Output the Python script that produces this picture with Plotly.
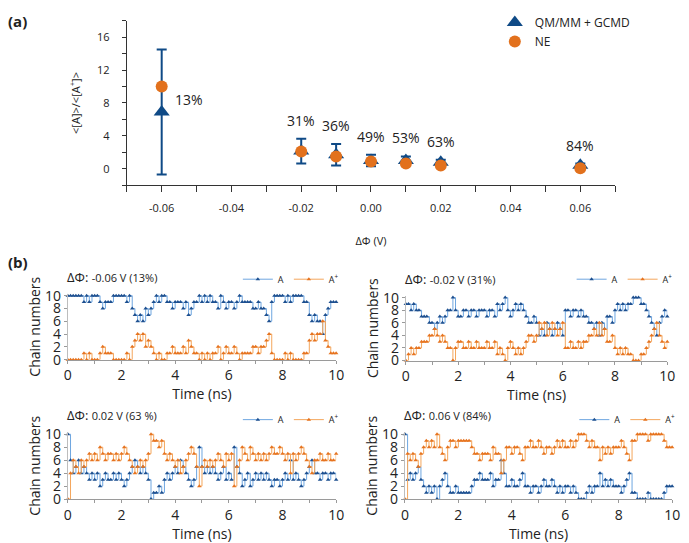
import plotly.graph_objects as go

# ---------------- Panel (a) data ----------------
PHI = [-0.06, -0.02, -0.01, 0.00, 0.01, 0.02, 0.06]
QMMM_RATIO = [6.9, 2.15, 1.7, 1.0, 1.0, 0.8, 0.43]
QMMM_ERR = [7.6, 1.5, 1.3, 0.7, 0.5, 0.3, 0.2]
NE_RATIO = [10.0, 2.1, 1.5, 0.9, 0.63, 0.4, 0.07]
PCT_LABELS = ["13%", "31%", "36%", "49%", "53%", "63%", "84%"]
XTICK_A_VALS = [-0.06, -0.04, -0.02, 0.00, 0.02, 0.04, 0.06]
XTICK_A_TEXT = ["-0.06", "-0.04", "-0.02", "0.00", "0.02", "0.04", "0.06"]
YTICK_A_VALS = [0, 4, 8, 12, 16]

# ---------------- Panel (b) data ----------------
TIME_NS = [round(i * 0.1, 1) for i in range(101)]
PANEL_PHI = ["-0.06", "-0.02", "0.02", "0.06"]
PANEL_PCT = ["13%", "31%", "63 %", "84%"]

A_m006 = [10, 10, 10, 10, 10, 10, 9, 10, 9, 10, 10, 10, 9, 8, 9, 9, 9, 10, 10, 10,
          10, 10, 9, 10, 8, 7, 6, 7, 6, 8, 7, 8, 9, 10, 9, 10, 10, 9, 9, 8,
          9, 9, 9, 8, 9, 7, 8, 9, 9, 10, 9, 10, 9, 10, 9, 9, 8, 10, 9, 8,
          9, 9, 8, 9, 10, 9, 9, 9, 9, 8, 8, 9, 8, 8, 7, 6, 9, 10, 10, 10,
          10, 9, 10, 9, 10, 10, 10, 10, 9, 9, 7, 6, 7, 6, 6, 4, 7, 8, 9, 9, 9]
Ap_m006 = [0, 0, 0, 0, 0, 0, 1, 0, 1, 0, 0, 0, 1, 2, 1, 1, 1, 0, 0, 0,
           0, 0, 1, 0, 2, 3, 4, 3, 4, 2, 3, 2, 1, 0, 1, 0, 0, 1, 1, 2,
           1, 1, 1, 2, 1, 3, 2, 1, 1, 0, 1, 0, 1, 0, 1, 1, 2, 0, 1, 2,
           1, 1, 2, 1, 0, 1, 1, 1, 1, 2, 2, 1, 2, 2, 3, 4, 1, 0, 0, 0,
           0, 1, 0, 1, 0, 0, 0, 0, 1, 1, 3, 4, 3, 4, 4, 6, 3, 2, 1, 1, 1]

A_m002 = [9, 9, 8, 9, 8, 8, 7, 7, 7, 6, 6, 5, 6, 7, 6, 7, 8, 8, 10, 8,
          7, 7, 8, 8, 7, 8, 8, 7, 8, 8, 8, 7, 8, 8, 7, 9, 8, 9, 10, 8,
          7, 8, 9, 8, 9, 8, 7, 6, 6, 7, 6, 4, 5, 4, 6, 5, 4, 5, 6, 5,
          4, 8, 8, 7, 8, 8, 7, 8, 7, 7, 6, 6, 5, 6, 4, 6, 5, 7, 7, 6,
          8, 9, 8, 9, 8, 9, 9, 10, 10, 10, 9, 9, 8, 7, 6, 5, 4, 6, 7, 8, 7]
Ap_m002 = [0, 1, 2, 1, 2, 2, 3, 3, 3, 4, 4, 5, 4, 3, 4, 3, 2, 2, 0, 2,
           3, 3, 2, 2, 3, 2, 2, 3, 2, 2, 2, 3, 2, 2, 3, 1, 2, 1, 0, 2,
           3, 2, 1, 2, 1, 2, 3, 4, 4, 3, 4, 6, 5, 6, 4, 5, 6, 5, 4, 5,
           6, 2, 2, 3, 2, 2, 3, 2, 3, 3, 4, 4, 5, 4, 6, 4, 5, 3, 3, 4,
           2, 1, 2, 1, 2, 1, 1, 0, 0, 0, 1, 1, 2, 3, 4, 5, 6, 4, 3, 2, 3]

A_p002 = [10, 6, 4, 5, 6, 4, 5, 4, 3, 4, 3, 4, 2, 3, 4, 3, 3, 4, 3, 4,
          3, 2, 3, 4, 5, 6, 5, 4, 5, 4, 3, 0, 1, 1, 2, 1, 3, 4, 3, 4,
          5, 4, 6, 5, 4, 3, 2, 3, 5, 8, 5, 4, 5, 4, 5, 4, 3, 4, 5, 3,
          4, 3, 8, 5, 4, 2, 3, 4, 2, 3, 4, 3, 4, 3, 4, 3, 2, 3, 3, 2,
          3, 4, 3, 6, 3, 4, 3, 2, 3, 4, 5, 6, 4, 4, 3, 4, 4, 3, 4, 4, 3]
Ap_p002 = [0, 4, 6, 5, 4, 6, 5, 6, 7, 6, 7, 6, 8, 7, 6, 7, 7, 6, 7, 6,
           7, 8, 7, 6, 5, 4, 5, 6, 5, 6, 7, 10, 9, 9, 8, 9, 7, 6, 7, 6,
           5, 6, 4, 5, 6, 7, 8, 7, 5, 2, 5, 6, 5, 6, 5, 6, 7, 6, 5, 7,
           6, 7, 2, 5, 6, 8, 7, 6, 8, 7, 6, 7, 6, 7, 6, 7, 8, 7, 7, 8,
           7, 6, 7, 4, 7, 6, 7, 8, 7, 6, 5, 4, 6, 6, 7, 6, 6, 7, 6, 6, 7]

A_p006 = [10, 3, 4, 3, 4, 5, 3, 2, 1, 2, 1, 2, 0, 2, 3, 4, 2, 1, 1, 2,
          1, 1, 1, 1, 1, 2, 3, 3, 4, 3, 3, 3, 4, 2, 3, 3, 6, 4, 2, 2,
          3, 2, 2, 3, 4, 2, 2, 1, 2, 2, 1, 2, 3, 2, 2, 3, 2, 1, 2, 1,
          2, 2, 1, 2, 1, 0, 0, 0, 1, 2, 1, 2, 2, 4, 2, 3, 2, 3, 2, 2,
          2, 1, 2, 3, 4, 1, 1, 0, 0, 0, 0, 1, 0, 0, 0, 0, 0, 1, 2, 2, 2]
Ap_p006 = [0, 7, 6, 7, 6, 5, 7, 8, 9, 8, 9, 8, 10, 8, 7, 6, 8, 9, 9, 8,
           9, 9, 9, 9, 9, 8, 7, 7, 6, 7, 7, 7, 6, 8, 7, 7, 4, 6, 8, 8,
           7, 8, 8, 7, 6, 8, 8, 9, 8, 8, 9, 8, 7, 8, 8, 7, 8, 9, 8, 9,
           8, 8, 9, 8, 9, 10, 10, 10, 9, 8, 9, 8, 8, 6, 8, 7, 8, 7, 8, 8,
           8, 9, 8, 7, 6, 9, 9, 10, 10, 10, 10, 9, 10, 10, 10, 10, 10, 9, 8, 8, 8]

A_SERIES = [A_m006, A_m002, A_p002, A_p006]
AP_SERIES = [Ap_m006, Ap_m002, Ap_p002, Ap_p006]

# ---------------- Styles ----------------
DARK_BLUE = "#0f4a86"
ORANGE = "#e2711d"
LIGHT_BLUE = "#6ea6e0"
LIGHT_ORANGE = "#f4a65c"
MARK_BLUE = "#1d4f8f"
MARK_ORANGE = "#e6731f"
FONT = "Open Sans"
TXT = "#222222"

fig = go.Figure()

# Panel (a)
fig.add_trace(go.Scatter(
    x=PHI, y=QMMM_RATIO, mode="markers", name="QM/MM + GCMD",
    marker=dict(symbol="triangle-up", size=14, color=DARK_BLUE),
    error_y=dict(type="data", array=QMMM_ERR, color=DARK_BLUE, thickness=2, width=5),
    xaxis="x", yaxis="y", legend="legend", cliponaxis=False))
fig.add_trace(go.Scatter(
    x=PHI, y=NE_RATIO, mode="markers", name="NE",
    marker=dict(symbol="circle", size=12, color=ORANGE),
    xaxis="x", yaxis="y", legend="legend", cliponaxis=False))

annotations = []
for i, (px, lab) in enumerate(zip(PHI, PCT_LABELS)):
    if i == 0:
        annotations.append(dict(x=px, y=QMMM_RATIO[i], xref="x", yref="y", text=lab,
                                showarrow=False, xanchor="left", yanchor="middle",
                                xshift=11, yshift=12,
                                font=dict(family=FONT, size=14, color=TXT)))
    else:
        annotations.append(dict(x=px, y=QMMM_RATIO[i] + QMMM_ERR[i], xref="x", yref="y",
                                text=lab, showarrow=False, xanchor="center",
                                yanchor="bottom", yshift=7,
                                font=dict(family=FONT, size=14, color=TXT)))

# Panel (b)
b_domains = [
    ([0.0943, 0.4906], [0.3315, 0.4567]),
    ([0.5936, 0.9797], [0.3297, 0.4530]),
    ([0.0943, 0.4906], [0.0663, 0.1934]),
    ([0.5922, 0.9869], [0.0663, 0.1934]),
]
legend_pos = [(0.502, 0.512), (0.995, 0.512), (0.502, 0.245), (0.999, 0.245)]

layout_axes = {}
legends = {}
for k in range(4):
    n = k + 2
    xa, ya = f"x{n}", f"y{n}"
    lg = f"legend{n}"
    fig.add_trace(go.Scatter(
        x=TIME_NS, y=A_SERIES[k], mode="lines+markers", name="A",
        line=dict(color=LIGHT_BLUE, width=1, shape="hv"),
        marker=dict(symbol="triangle-up", size=4, color=MARK_BLUE),
        xaxis=xa, yaxis=ya, legend=lg, cliponaxis=False))
    fig.add_trace(go.Scatter(
        x=TIME_NS, y=AP_SERIES[k], mode="lines+markers", name="A<sup>+</sup>",
        line=dict(color=LIGHT_ORANGE, width=1, shape="hv"),
        marker=dict(symbol="triangle-up", size=4, color=MARK_ORANGE),
        xaxis=xa, yaxis=ya, legend=lg, cliponaxis=False))
    xd, yd = b_domains[k]
    layout_axes[f"xaxis{n}"] = dict(
        domain=xd, anchor=ya, range=[0, 10], dtick=2, tick0=0,
        showline=True, linecolor="#9a9a9a", linewidth=1, ticks="outside",
        ticklen=3, tickcolor="#9a9a9a", showgrid=False, zeroline=False,
        minor=dict(dtick=1, ticks="outside", ticklen=3, tickcolor="#9a9a9a"),
        tickfont=dict(family=FONT, size=14, color=TXT),
        title=dict(text="Time (ns)", font=dict(family=FONT, size=14, color=TXT), standoff=2))
    layout_axes[f"yaxis{n}"] = dict(
        domain=yd, anchor=xa, range=[0, 10.3], tickvals=[0, 2, 4, 6, 8, 10],
        showline=True, linecolor="#bdbdbd", linewidth=1, ticks="outside",
        ticklen=3, tickcolor="#9a9a9a", showgrid=False, zeroline=False,
        tickfont=dict(family=FONT, size=14, color=TXT),
        title=dict(text="Chain numbers", font=dict(family=FONT, size=14, color=TXT), standoff=1))
    lx, ly = legend_pos[k]
    legends[lg] = dict(x=lx, y=ly, xanchor="right", yanchor="top", orientation="h",
                       font=dict(family=FONT, size=9, color=TXT), bgcolor="rgba(0,0,0,0)",
                       itemwidth=30, tracegroupgap=0, itemclick=False)
    annotations.append(dict(
        x=xd[0], y=yd[1], xref="paper", yref="paper", xanchor="left", yanchor="bottom",
        xshift=-3, yshift=6, showarrow=False,
        text=f"ΔΦ: <span style='font-size:11px'>{PANEL_PHI[k]} V ({PANEL_PCT[k]})</span>",
        font=dict(family=FONT, size=13, color=TXT)))

annotations.append(dict(x=0.003, y=0.998, xref="paper", yref="paper", text="<b>(a)</b>",
                        showarrow=False, xanchor="left", yanchor="top",
                        font=dict(family=FONT, size=15, color=TXT)))
annotations.append(dict(x=0.003, y=0.517, xref="paper", yref="paper", text="<b>(b)</b>",
                        showarrow=False, xanchor="left", yanchor="middle",
                        font=dict(family=FONT, size=15, color=TXT)))

fig.update_layout(
    width=689, height=543, margin=dict(l=0, r=0, t=0, b=0),
    paper_bgcolor="white", plot_bgcolor="white",
    font=dict(family=FONT, color=TXT),
    xaxis=dict(domain=[0.1814, 0.9028], anchor="y", range=[-0.07, 0.07],
               tickvals=XTICK_A_VALS, ticktext=XTICK_A_TEXT,
               showline=True, linecolor="#333", linewidth=1, ticks="outside",
               ticklen=6, tickcolor="#333", showgrid=False, zeroline=False,
               minor=dict(dtick=0.01, ticks="outside", ticklen=6, tickcolor="#333"),
               ticklabelstandoff=7,
               tickfont=dict(family=FONT, size=11, color=TXT),
               title=dict(text="ΔΦ (V)", font=dict(family=FONT, size=11, color=TXT), standoff=22)),
    yaxis=dict(domain=[0.663, 0.976], anchor="x", range=[-2, 18],
               tickvals=YTICK_A_VALS, showline=True, linecolor="#333", linewidth=1,
               ticks="outside", ticklen=4, tickcolor="#333", showgrid=False, zeroline=False,
               minor=dict(dtick=2, ticks="outside", ticklen=4, tickcolor="#333"),
               ticklabelstandoff=10,
               tickfont=dict(family=FONT, size=11, color=TXT),
               title=dict(text="<[A]>/<[A<sup>+</sup>]>", font=dict(family=FONT, size=11, color=TXT), standoff=14)),
    legend=dict(x=0.725, y=1.0, xanchor="left", yanchor="top",
                font=dict(family=FONT, size=12, color=TXT), bgcolor="rgba(0,0,0,0)",
                itemclick=False, tracegroupgap=2),
    annotations=annotations,
    **layout_axes, **legends,
)

fig.write_html("out.html")
